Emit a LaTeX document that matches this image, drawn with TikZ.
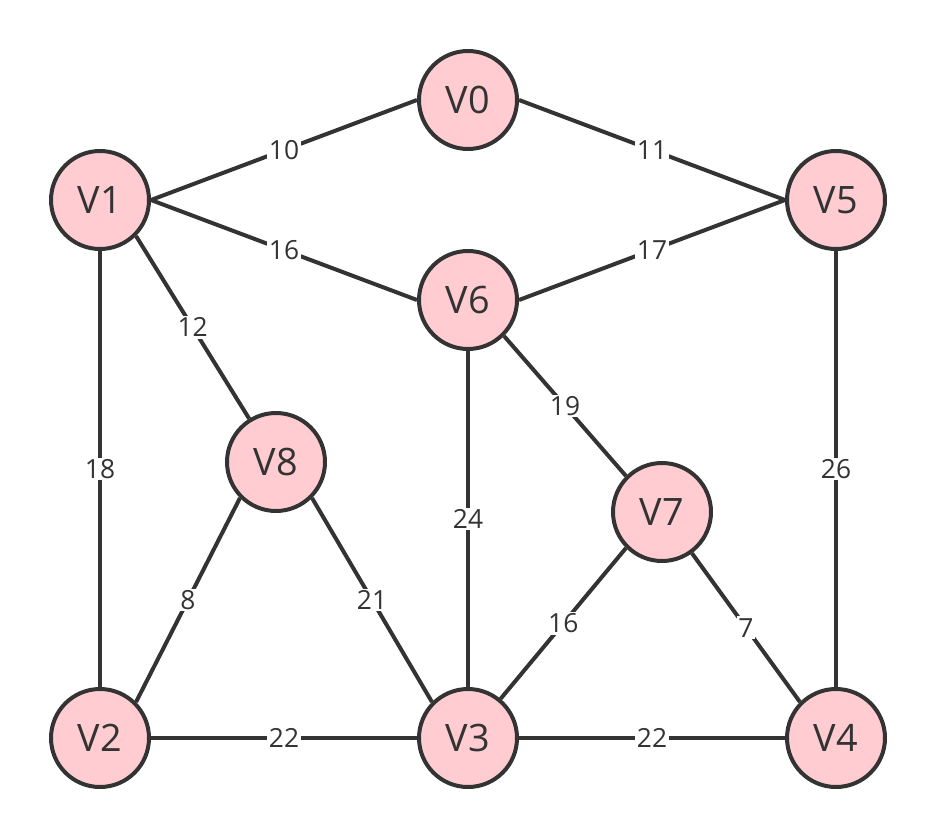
\documentclass[tikz,border=0pt]{standalone}
\usepackage{fontspec}
\setmainfont{Open Sans}
\definecolor{vertexpink}{HTML}{FFCCD2}
\definecolor{edgegray}{HTML}{333333}
\begin{document}
\begin{tikzpicture}[x=0.02cm,y=-0.02cm,
    vertex/.style={circle,draw=edgegray,fill=vertexpink,line width=0.08cm,
        minimum size=1.96cm,inner sep=0pt,text=edgegray,font=\fontsize{21.5}{26}\selectfont},
    edge/.style={draw=edgegray,line width=0.08cm},
    weight/.style={fill=white,inner sep=1pt,text=edgegray,font=\fontsize{15}{18}\selectfont}]
    \useasboundingbox (0,0) rectangle (936,838);

    % Vertices
    \foreach \n/\x/\y in {V0/468/100, V1/100/200, V5/836/200, V6/468/300,
        V8/276/462, V7/662/512, V2/100/738, V3/468/738, V4/836/738} {
        \node[vertex] (\n) at (\x,\y) {\n};
    }

    % Weighted edges
    \foreach \a/\b/\w in {V1.east/V0.west/10, V0.east/V5.west/11,
        V1.east/V6.west/16, V6.east/V5.west/17, V1.south east/V8/12,
        V1/V2/18, V6.south east/V7.north west/19, V6/V3/24, V5/V4/26,
        V8.south west/V2.north east/8, V8.south east/V3.north west/21,
        V7.south west/V3/16, V7/V4.north west/7, V2/V3/22, V3/V4/22} {
        \draw[edge] (\a) -- node[weight] {\w} (\b);
    }
\end{tikzpicture}
\end{document}
